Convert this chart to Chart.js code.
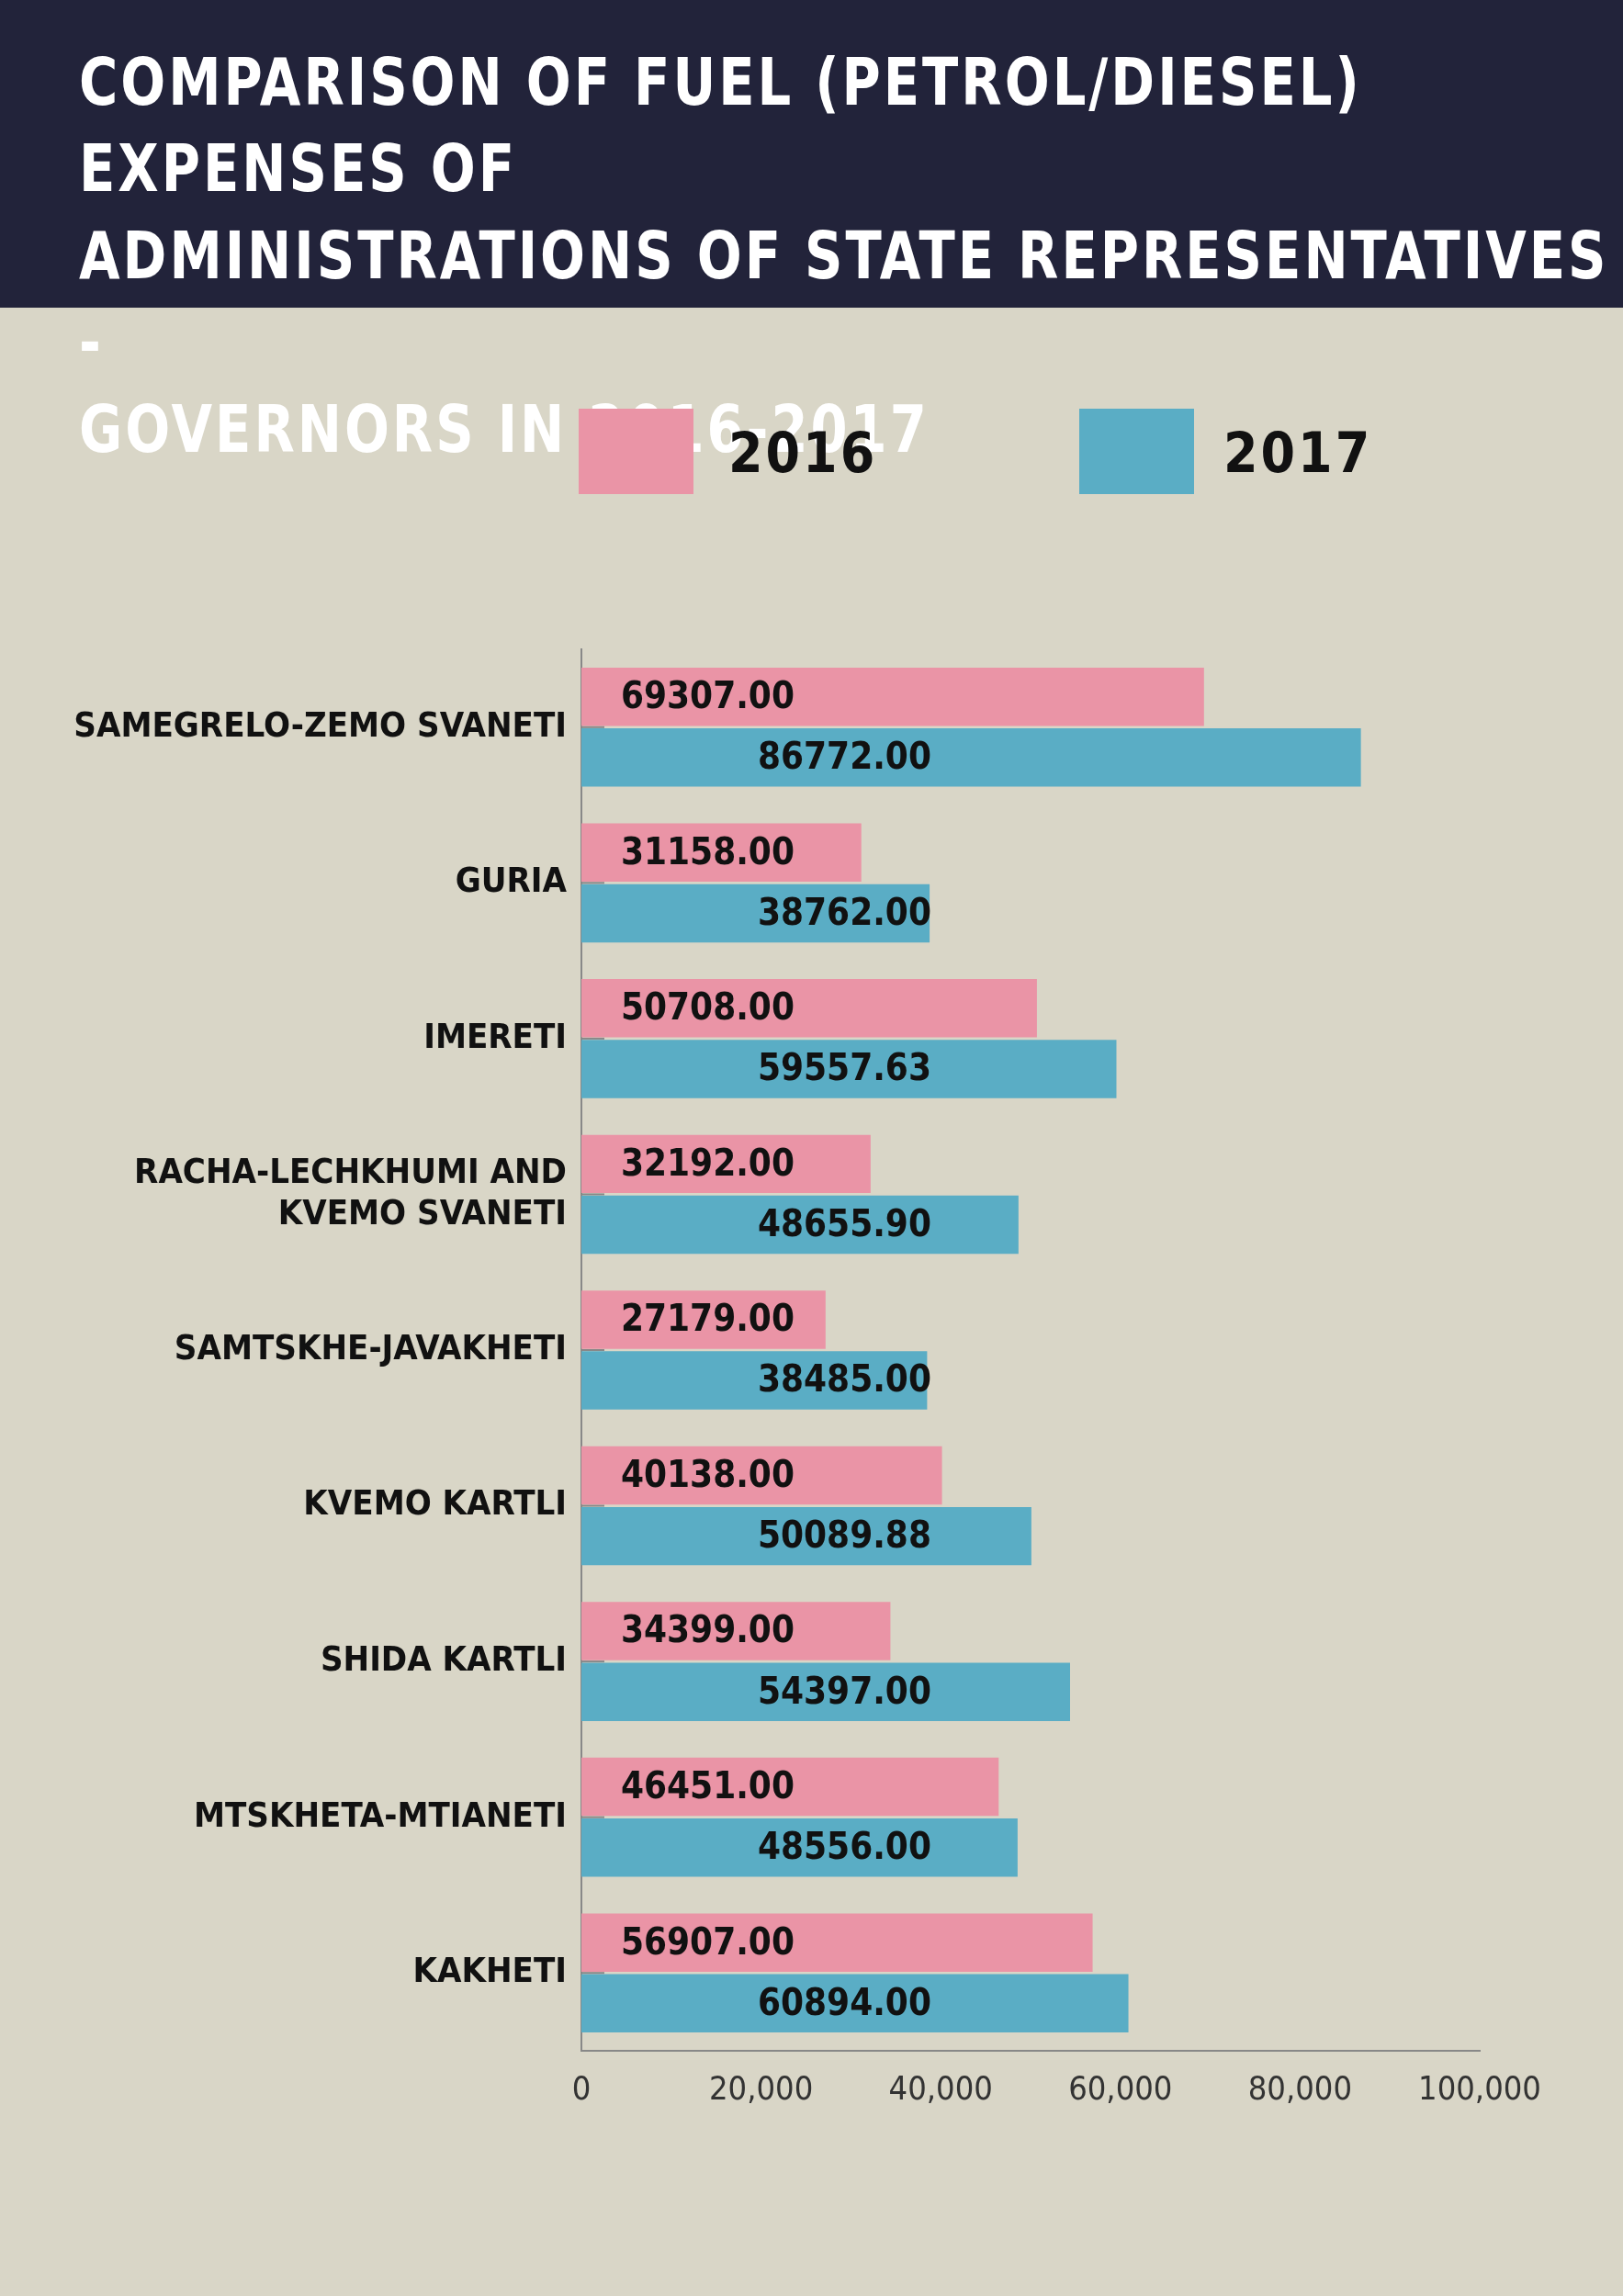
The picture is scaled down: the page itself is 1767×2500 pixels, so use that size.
<!DOCTYPE html>
<html>
<head>
<meta charset="utf-8">
<script src="https://cdn.jsdelivr.net/npm/chart.js@4.4.0/dist/chart.umd.min.js"></script>
<style>
  body { margin: 0; width: 1767px; height: 2500px; background: #d9d6c7; overflow: hidden;
         font-family: "Liberation Sans Narrow", "DejaVu Sans Condensed", sans-serif; }
  #header { position: absolute; left: 0; top: 0; width: 1767px; height: 335px; background: #22233a; }
  #header h1 { margin: 0; position: absolute; left: 86px; top: 42px; color: #fff; font-size: 64px;
               line-height: 86px; font-weight: bold; letter-spacing: 3px; transform: scaleY(1.1); transform-origin: top left; }
  .leg { position: absolute; top: 445px; height: 93px; width: 125px; }
  .legtxt { position: absolute; top: 458px; font-size: 60px; font-weight: bold; color: #111; letter-spacing: 3px; }
  #wrap { position: absolute; left: 0; top: 335px; width: 1767px; height: 2165px; }
</style>
</head>
<body>
<div id="header"><h1>COMPARISON OF FUEL (PETROL/DIESEL) EXPENSES OF<br>ADMINISTRATIONS OF STATE REPRESENTATIVES -<br>GOVERNORS IN 2016-2017</h1></div>
<div id="legend"></div>
<div id="wrap"><canvas id="fuelChart" width="1767" height="2165"></canvas></div>
<script>
// ===== data =====
const regions = [
    "SAMEGRELO-ZEMO SVANETI", "GURIA", "IMERETI", ["RACHA-LECHKHUMI AND", "KVEMO SVANETI"],
    "SAMTSKHE-JAVAKHETI", "KVEMO KARTLI", "SHIDA KARTLI", "MTSKHETA-MTIANETI", "KAKHETI"
];
const values2016 = [69307.00, 31158.00, 50708.00, 32192.00, 27179.00, 40138.00, 34399.00, 46451.00, 56907.00];
const values2017 = [86772.00, 38762.00, 59557.63, 48655.90, 38485.00, 50089.88, 54397.00, 48556.00, 60894.00];
const xTicks = [0, 20000, 40000, 60000, 80000, 100000];

const colors = ["#ea94a6", "#5aadc5"];
const labelOffset = [43, 192];
const font = '"Liberation Sans Narrow", "DejaVu Sans Condensed", sans-serif';

// ===== legend (html) =====
const legendPos = [[630, 793], [1175, 1332]];
const legendEl = document.getElementById("legend");
["2016", "2017"].forEach((t, i) => {
    legendEl.innerHTML += `<div class="leg" style="left:${legendPos[i][0]}px;background:${colors[i]}"></div>` +
        `<div class="legtxt" style="left:${legendPos[i][1]}px">${t}</div>`;
});

// ===== value labels =====
const valueLabels = {
    id: "valueLabels",
    afterDatasetsDraw(chart) {
        const c = chart.ctx;
        const x0 = chart.scales.x.getPixelForValue(0);
        c.save();
        c.font = "bold 40px " + font;
        c.fillStyle = "#111";
        c.textBaseline = "middle";
        chart.data.datasets.forEach((ds, di) => {
            chart.getDatasetMeta(di).data.forEach((bar, i) => {
                c.fillText(ds.data[i].toFixed(2), x0 + labelOffset[di], bar.y + 2);
            });
        });
        c.restore();
    }
};

new Chart(document.getElementById("fuelChart"), {
    type: "bar",
    data: {
        labels: regions,
        datasets: [
            { label: "2016", data: values2016, backgroundColor: colors[0] },
            { label: "2017", data: values2017, backgroundColor: colors[1] }
        ]
    },
    options: {
        indexAxis: "y",
        responsive: false,
        animation: false,
        categoryPercentage: 0.78,
        barPercentage: 0.96,
        layout: { padding: { top: 372, right: 156, bottom: 207, left: 0 } },
        plugins: { legend: { display: false }, tooltip: { enabled: false } },
        scales: {
            x: {
                min: 0, max: 100000,
                afterBuildTicks(s) { s.ticks = xTicks.map(v => ({ value: v })); },
                afterFit(s) { s.height = 60; },
                grid: { display: false, drawTicks: false },
                border: { color: "#888", width: 2 },
                ticks: { color: "#333", padding: 22, font: { family: font, size: 36 } }
            },
            y: {
                afterFit(s) { s.width = 633; },
                grid: { display: false, drawOnChartArea: false, offset: false, tickLength: 0 },
                border: { color: "#888", width: 2 },
                ticks: { color: "#111", padding: 16, font: { family: font, size: 38, weight: "bold" } }
            }
        }
    },
    plugins: [valueLabels, {
        id: "catTicks",
        afterDatasetsDraw(chart) {
            const c = chart.ctx, y = chart.scales.y, x0 = chart.chartArea.left;
            c.save();
            c.strokeStyle = "#888"; c.lineWidth = 2;
            regions.forEach((r, i) => {
                const py = y.getPixelForValue(i);
                c.beginPath(); c.moveTo(x0, py); c.lineTo(x0 + 25, py); c.stroke();
            });
            c.restore();
        }
    }]
});
</script>
</body>
</html>
